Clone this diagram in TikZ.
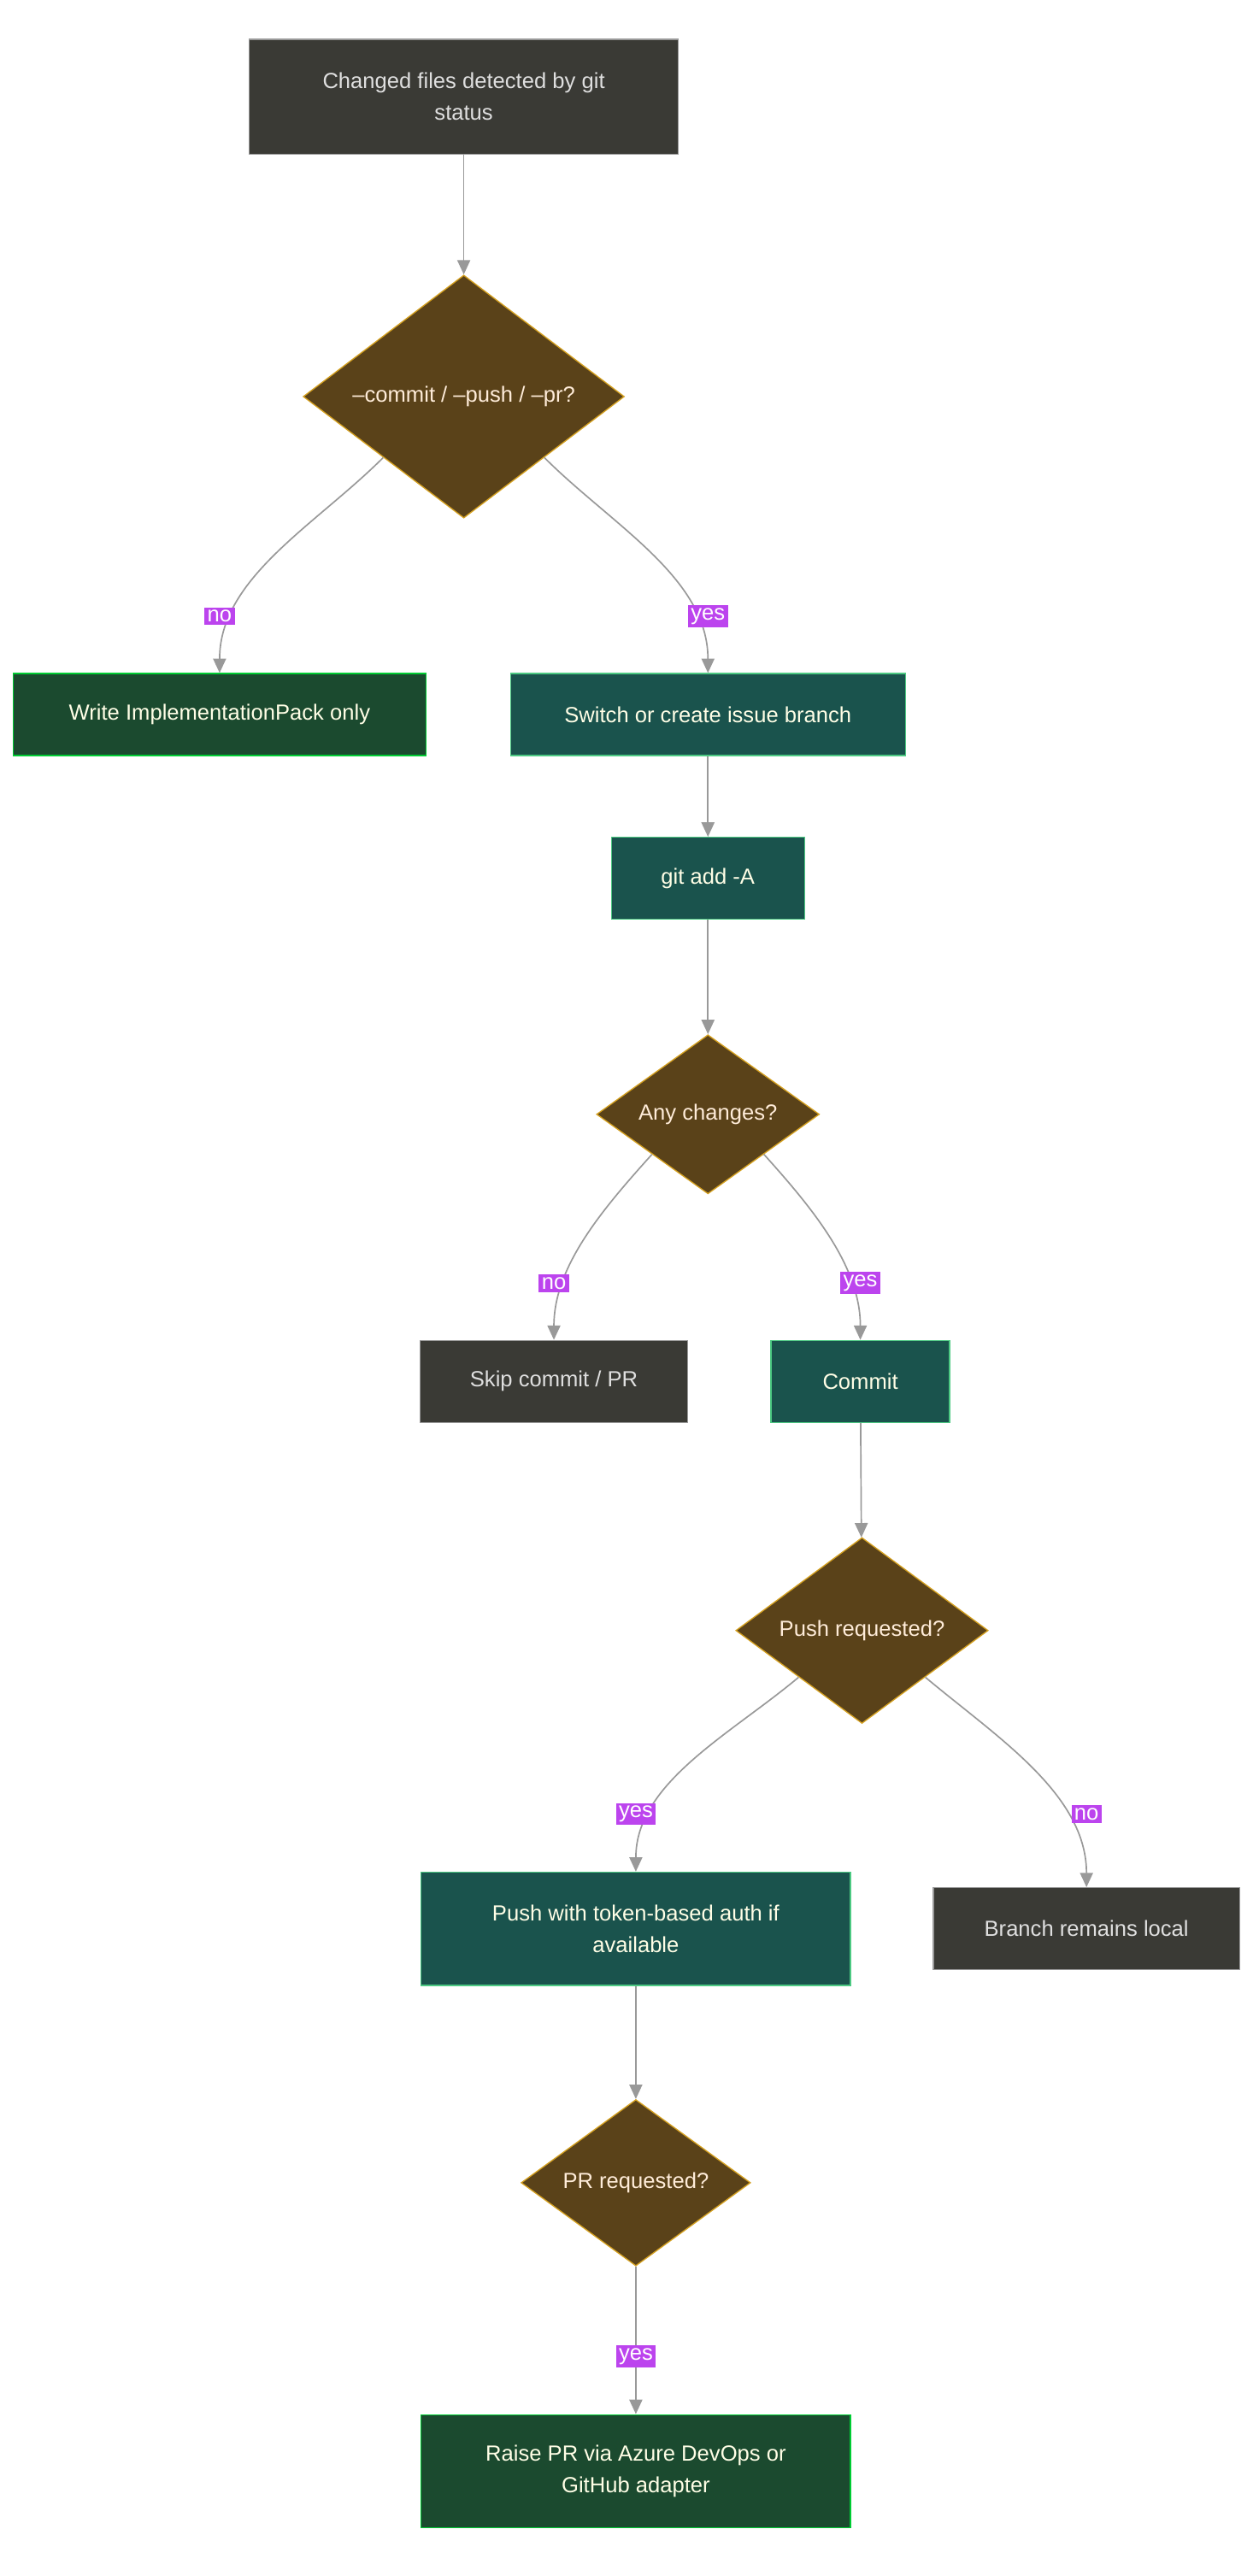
\documentclass[tikz,border=0pt]{standalone}
\usepackage{fontspec}
\setmainfont{Liberation Sans}
\usetikzlibrary{shapes.geometric,arrows.meta}
\definecolor{boxgray}{HTML}{3A3A35}
\definecolor{boxteal}{HTML}{1A534D}
\definecolor{boxgreen}{HTML}{1B4A2F}
\definecolor{diafill}{HTML}{5A4219}
\definecolor{dialine}{HTML}{D4A020}
\definecolor{edgegray}{HTML}{999999}
\definecolor{lblpurple}{HTML}{BC44EE}

\begin{document}
\begin{tikzpicture}[x=0.02cm, y=-0.02cm, font=\fontsize{7.6}{11}\selectfont,
    >={Triangle[length=5pt,width=4.5pt]}]
  \tikzset{
    basebox/.style={rectangle, align=center, inner sep=0pt, line width=0.4pt},
    graybox/.style={basebox, fill=boxgray, draw=gray!80, text=gray!25},
    tealbox/.style={basebox, fill=boxteal, draw=teal!60!green!70, text=white!90!yellow},
    greenbox/.style={basebox, fill=boxgreen, draw=green!60!teal, text=white!90!yellow},
    decision/.style={diamond, aspect=1, inner sep=0pt, fill=diafill, draw=dialine,
      text=orange!15!white, line width=0.4pt},
    flow/.style={->, draw=edgegray, line width=0.5pt},
    answer/.style={fill=lblpurple, text=white, inner sep=1pt}
  }
  \useasboundingbox (0,0) rectangle (768,1572);

  % nodes
  \node[graybox, minimum width=5.24cm, minimum height=1.4cm] (changed) at (283,59)
    {Changed files detected by git\\status};
  \node[decision, minimum width=3.92cm] (modeq) at (283,242) {--commit / --push / --pr?};
  \node[greenbox, minimum width=5.04cm, minimum height=1cm] (packonly) at (134,436)
    {Write ImplementationPack only};
  \node[tealbox, minimum width=4.82cm, minimum height=1cm] (branch) at (432,436)
    {Switch or create issue branch};
  \node[tealbox, minimum width=2.36cm, minimum height=1cm] (gitadd) at (432,536) {git add -A};
  \node[decision, minimum width=2.72cm] (changesq) at (432,680) {Any changes?};
  \node[graybox, minimum width=3.26cm, minimum height=1cm] (skip) at (338,843) {Skip commit / PR};
  \node[tealbox, minimum width=2.18cm, minimum height=1cm] (commit) at (525,843) {Commit};
  \node[decision, minimum width=3.08cm] (pushq) at (526,995) {Push requested?};
  \node[tealbox, minimum width=5.24cm, minimum height=1.38cm] (push) at (388,1177)
    {Push with token-based auth if\\available};
  \node[graybox, minimum width=3.74cm, minimum height=1cm] (local) at (663,1177)
    {Branch remains local};
  \node[decision, minimum width=2.8cm] (prq) at (388,1332) {PR requested?};
  \node[greenbox, minimum width=5.24cm, minimum height=1.38cm] (raise) at (388,1508)
    {Raise PR via Azure DevOps or\\GitHub adapter};

  % connectors
  \draw[flow] (changed) -- (modeq);
  \draw[flow] (modeq.south west) to[out=-135, in=90, looseness=0.9] (packonly.north);
  \draw[flow] (modeq.south east) to[out=-45, in=90, looseness=0.9] (branch.north);
  \draw[flow] (branch) -- (gitadd);
  \draw[flow] (gitadd) -- (changesq);
  \draw[flow] (changesq.south west) to[out=-132, in=90, looseness=0.9] (skip.north);
  \draw[flow] (changesq.south east) to[out=-48, in=90, looseness=0.9] (commit.north);
  \draw[flow] (commit) -- (pushq);
  \draw[flow] (pushq.south west) to[out=-140, in=90, looseness=0.9] (push.north);
  \draw[flow] (pushq.south east) to[out=-40, in=90, looseness=0.9] (local.north);
  \draw[flow] (push) -- (prq);
  \draw[flow] (prq) -- (raise);

  % answer labels
  \node[answer] (no1) at (134,376) {no};
  \node[answer] (yes1) at (432,376) {yes};
  \node[answer] (no2) at (338,783) {no};
  \node[answer] (yes2) at (525,783) {yes};
  \node[answer] (yes3) at (388,1107) {yes};
  \node[answer] (no3) at (663,1107) {no};
  \node[answer] (yes4) at (388,1438) {yes};
\end{tikzpicture}
\end{document}
